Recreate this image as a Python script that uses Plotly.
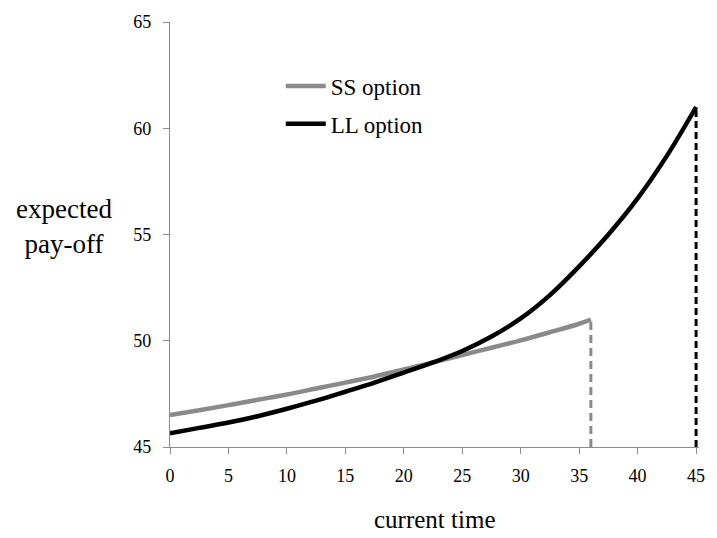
import plotly.graph_objects as go

# data
ss_t = [0, 2.5, 5, 7.5, 10, 12.5, 15, 17.5, 20, 22.5, 25, 27.5, 30, 32.5, 35, 36]
ss_v = [46.5, 46.73, 46.97, 47.22, 47.47, 47.75, 48.03, 48.32, 48.65, 48.98,
        49.33, 49.67, 50.02, 50.4, 50.8, 51.0]
ll_t = [0, 2.5, 5, 7.5, 10, 12.5, 15, 17.5, 20, 22.5, 25, 27.5, 30, 32.5, 35,
        37.5, 40, 42.5, 45]
ll_v = [45.65, 45.9, 46.15, 46.45, 46.8, 47.18, 47.6, 48.03, 48.5, 48.98, 49.52,
        50.2, 51.05, 52.15, 53.5, 55.0, 56.7, 58.7, 61.0]
x_ticks = [0, 5, 10, 15, 20, 25, 30, 35, 40, 45]
y_ticks = [45, 50, 55, 60, 65]
y_min = 45

GRAY = "#8a8a8a"
AX = "#8c8c8c"
FONT = "Liberation Serif"

fig = go.Figure()
fig.add_trace(go.Scatter(x=ss_t, y=ss_v, mode="lines", name="SS option",
                         line=dict(color=GRAY, width=4.5, shape="spline", smoothing=1),
                         legendgroup="a"))
fig.add_trace(go.Scatter(x=ll_t, y=ll_v, mode="lines", name="LL option",
                         line=dict(color="black", width=4.5, shape="spline", smoothing=1),
                         legendgroup="b"))
fig.add_trace(go.Scatter(x=[ss_t[-1], ss_t[-1]], y=[y_min, ss_v[-1]], mode="lines",
                         line=dict(color=GRAY, width=3, dash="8px,5px"), showlegend=False))
fig.add_trace(go.Scatter(x=[ll_t[-1], ll_t[-1]], y=[y_min, ll_v[-1]], mode="lines",
                         line=dict(color="black", width=3, dash="7px,4px"), showlegend=False))

fig.update_layout(
    width=717, height=538,
    margin=dict(l=170, r=14, t=20, b=91),
    paper_bgcolor="white", plot_bgcolor="white",
    font=dict(family=FONT, color="black"),
    showlegend=True,
    legend=dict(x=0.2094, y=0.9, xanchor="left", yanchor="top",
                font=dict(size=23, family=FONT), bgcolor="rgba(0,0,0,0)",
                traceorder="grouped", tracegroupgap=5, itemwidth=40),
    xaxis=dict(range=[0, 45.25], tickvals=x_ticks, showgrid=False, zeroline=False,
               showline=True, linecolor=AX, linewidth=1.3, ticks="outside",
               ticklen=6, tickcolor=AX, tickfont=dict(size=18, family=FONT),
               ticklabelstandoff=6),
    yaxis=dict(range=[45, 65], tickvals=y_ticks, showgrid=False, zeroline=False,
               showline=True, linecolor=AX, linewidth=1.3, ticks="outside",
               ticklen=6, tickcolor=AX, tickfont=dict(size=18, family=FONT),
               ticklabelstandoff=8),
    annotations=[
        dict(text="current time", xref="paper", yref="paper", x=0.5, y=-0.171,
             xanchor="center", yanchor="middle", showarrow=False,
             font=dict(size=25, family=FONT)),
        dict(text="expected<br>pay-off", xref="paper", yref="paper", x=-0.2, y=0.518,
             xanchor="center", yanchor="middle", showarrow=False,
             font=dict(size=27, family=FONT)),
    ],
)

fig.write_html("out.html")
